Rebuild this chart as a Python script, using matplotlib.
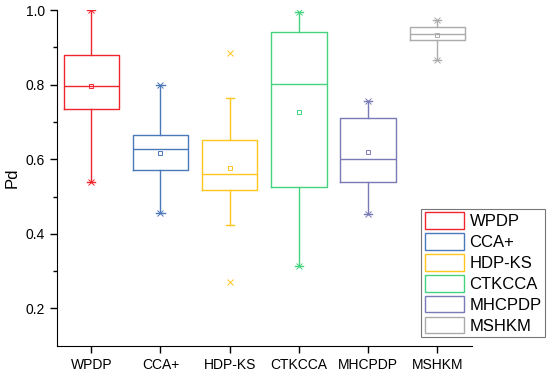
import matplotlib
matplotlib.use("Agg")
import matplotlib.pyplot as plt
from matplotlib.patches import Patch

plt.rcParams['font.family'] = ['Liberation Sans', 'DejaVu Sans']

categories = ["WPDP", "CCA+", "HDP-KS", "CTKCCA", "MHCPDP", "MSHKM"]
whislo = [0.539, 0.455, 0.424, 0.314, 0.454, 0.866]
q1 = [0.734, 0.571, 0.517, 0.525, 0.540, 0.920]
med = [0.797, 0.627, 0.561, 0.802, 0.600, 0.936]
q3 = [0.879, 0.665, 0.651, 0.940, 0.710, 0.954]
whishi = [1.000, 0.799, 0.763, 0.994, 0.757, 0.973]
means = [0.797, 0.617, 0.577, 0.727, 0.619, 0.933]
fliers = [[], [], [0.884, 0.271], [], [], []]
colors = ["#F0252D", "#4A78B8", "#FFC61E", "#45D27E", "#7A7AB6", "#ABABAB"]

fig = plt.figure(figsize=(5.5, 3.73), dpi=100)
ax = fig.add_axes([0.103, 0.073, 0.755, 0.9])

stats = []
for i, c in enumerate(categories):
    stats.append(dict(label=c, whislo=whislo[i], q1=q1[i], med=med[i], q3=q3[i],
                      whishi=whishi[i], mean=means[i], fliers=fliers[i]))

positions = list(range(1, len(categories) + 1))
for i, s in enumerate(stats):
    col = colors[i]
    ax.bxp([s], positions=[positions[i]], widths=0.8, showmeans=True, showfliers=True,
           boxprops=dict(color=col, linewidth=1.0),
           medianprops=dict(color=col, linewidth=1.0),
           whiskerprops=dict(color=col, linewidth=1.0),
           capprops=dict(color=col, linewidth=1.0),
           capwidths=0.12,
           meanprops=dict(marker='s', markerfacecolor='none', markeredgecolor=col,
                          markersize=3.5, markeredgewidth=0.7),
           flierprops=dict(marker='x', markeredgecolor=col, markersize=4, markeredgewidth=0.7))
    # min / max markers at whisker ends when no outlier lies beyond them
    ends = []
    if not any(f < whislo[i] for f in fliers[i]):
        ends.append(whislo[i])
    if not any(f > whishi[i] for f in fliers[i]):
        ends.append(whishi[i])
    if ends:
        ax.plot([positions[i]] * len(ends), ends, linestyle='none', marker='x',
                color=col, markersize=4, markeredgewidth=0.7)

ax.set_xlim(0.5, 6.5)
ax.set_ylim(0.1, 1.0)
ax.set_xticks(positions)
ax.set_xticklabels(categories, fontsize=10)
ax.set_yticks([0.2, 0.4, 0.6, 0.8, 1.0])
ax.set_yticklabels(["0.2", "0.4", "0.6", "0.8", "1.0"], fontsize=10)
ax.set_yticks([0.3, 0.5, 0.7, 0.9], minor=True)
ax.tick_params(axis='both', direction='out', length=5, width=1)
ax.tick_params(axis='y', which='minor', direction='out', length=3, width=1)
ax.spines['top'].set_visible(False)
ax.spines['right'].set_visible(False)
ax.set_ylabel("Pd", fontsize=12)

handles = [Patch(facecolor='none', edgecolor=c, linewidth=1.0) for c in colors]
leg = ax.legend(handles, categories, loc='lower left', bbox_to_anchor=(0.878, 0.026),
                fontsize=12, frameon=True, fancybox=False, edgecolor='#555555',
                handlelength=2.35, handleheight=1.15, handletextpad=0.35,
                labelspacing=0.24, borderpad=0.2, borderaxespad=0)
leg.get_frame().set_linewidth(0.8)

fig.savefig("out.png", dpi=100)
